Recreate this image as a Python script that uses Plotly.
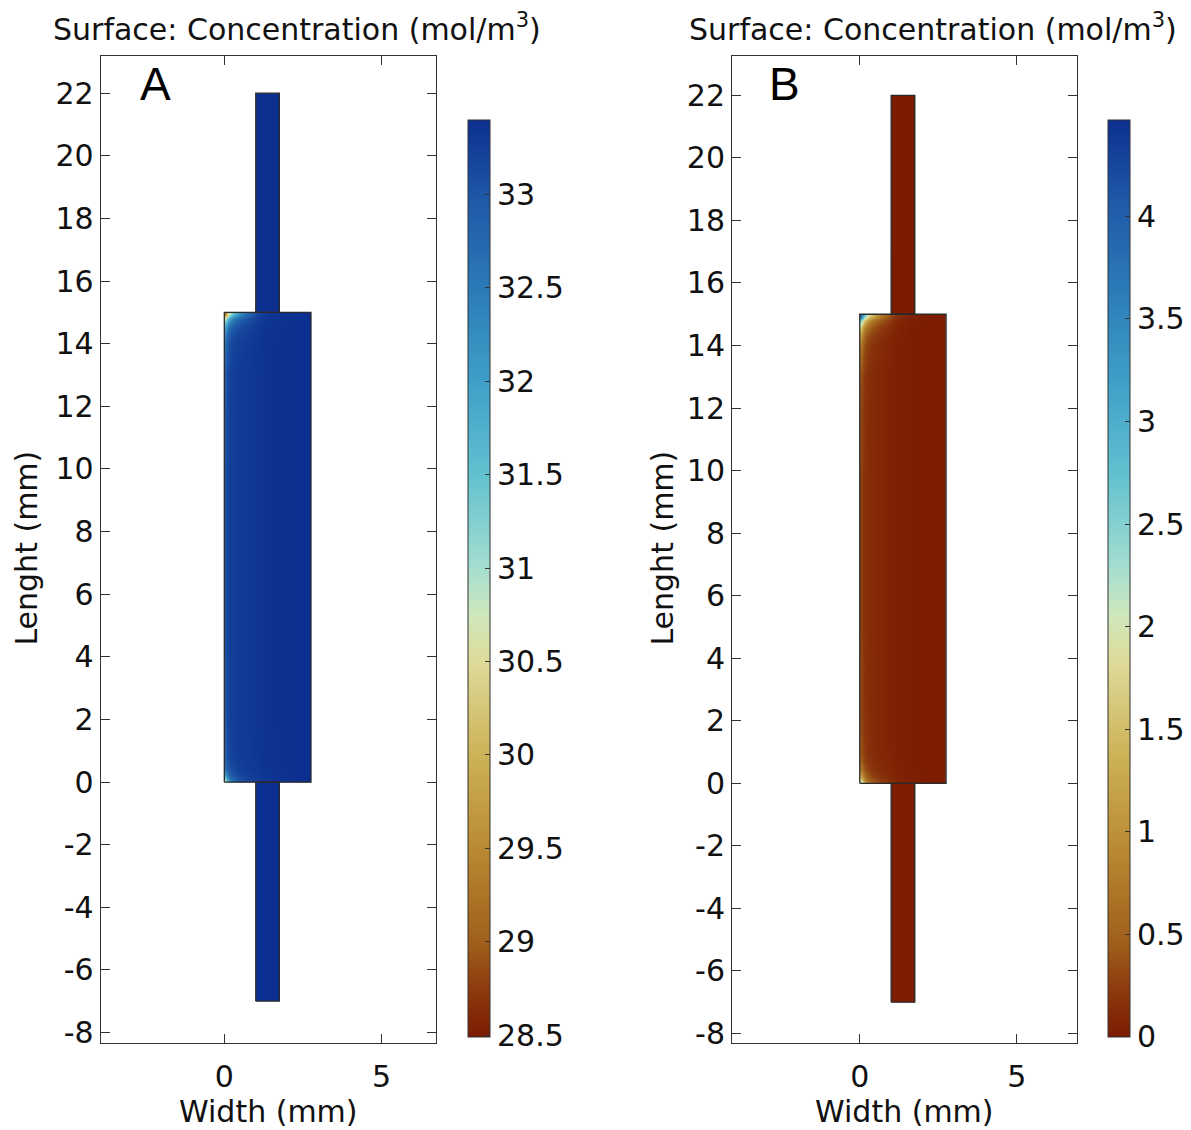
import plotly.graph_objects as go

# ---------------- data ----------------
# main chamber grid (mm) – cell edges
rect_x_edges = [0, 0.05, 0.12, 0.25, 0.5, 0.9, 1.2, 2.0, 2.75]
rect_y_edges = [0, 0.08, 0.2, 0.45, 1.0, 3.0, 7.5, 12.0, 14.0, 14.55, 14.8, 14.92, 15.0]

# concentration in main chamber, panel A (rows bottom -> top)
conc_A_rect = [
    [30.9, 31.6, 32.4, 32.9, 33.15, 33.28, 33.36, 33.39],
    [31.6, 32.2, 32.7, 33.0, 33.2, 33.29, 33.36, 33.39],
    [32.4, 32.7, 32.95, 33.15, 33.25, 33.3, 33.37, 33.39],
    [32.85, 33.05, 33.16, 33.25, 33.29, 33.33, 33.37, 33.39],
    [33.0, 33.14, 33.22, 33.27, 33.31, 33.34, 33.38, 33.39],
    [33.05, 33.16, 33.24, 33.28, 33.31, 33.34, 33.38, 33.39],
    [33.05, 33.16, 33.24, 33.28, 33.31, 33.34, 33.38, 33.39],
    [32.95, 33.12, 33.22, 33.27, 33.31, 33.34, 33.38, 33.39],
    [32.4, 32.75, 33.0, 33.15, 33.25, 33.32, 33.38, 33.39],
    [31.4, 31.9, 32.4, 32.85, 33.1, 33.27, 33.37, 33.39],
    [30.2, 30.9, 31.7, 32.3, 32.9, 33.2, 33.36, 33.39],
    [29.4, 30.1, 31.0, 31.9, 32.7, 33.15, 33.35, 33.39],
]

# concentration in main chamber, panel B (rows bottom -> top)
conc_B_rect = [
    [2.3, 1.7, 1.0, 0.5, 0.25, 0.12, 0.04, 0.01],
    [1.7, 1.2, 0.7, 0.38, 0.2, 0.1, 0.03, 0.01],
    [1.0, 0.7, 0.42, 0.25, 0.13, 0.08, 0.03, 0.01],
    [0.5, 0.34, 0.24, 0.15, 0.1, 0.06, 0.02, 0.01],
    [0.32, 0.23, 0.17, 0.12, 0.08, 0.05, 0.02, 0.01],
    [0.28, 0.2, 0.15, 0.11, 0.08, 0.05, 0.02, 0.01],
    [0.28, 0.2, 0.15, 0.11, 0.08, 0.05, 0.02, 0.01],
    [0.38, 0.26, 0.18, 0.12, 0.08, 0.05, 0.02, 0.01],
    [1.1, 0.7, 0.42, 0.25, 0.14, 0.07, 0.02, 0.01],
    [2.0, 1.5, 1.0, 0.55, 0.28, 0.12, 0.03, 0.01],
    [3.2, 2.5, 1.7, 1.0, 0.5, 0.18, 0.04, 0.01],
    [3.9, 3.2, 2.4, 1.5, 0.7, 0.25, 0.05, 0.01],
]

# inlet / outlet channels (mm)
channel_x_edges = [1.0, 1.75]
top_channel_y_edges = [15.0, 22.0]
bottom_channel_y_edges = [-7.0, 0.0]
conc_A_top_channel = 33.40
conc_A_bottom_channel = 33.39
conc_B_top_channel = 0.0
conc_B_bottom_channel = 0.01

# colour ranges and tick labels
range_A = [28.49, 33.40]
range_B = [0.0, 4.47]
cbar_ticks_A = [28.5, 29, 29.5, 30, 30.5, 31, 31.5, 32, 32.5, 33]
cbar_ticks_B = [0, 0.5, 1, 1.5, 2, 2.5, 3, 3.5, 4]
y_ticks = [-8, -6, -4, -2, 0, 2, 4, 6, 8, 10, 12, 14, 16, 18, 20, 22]
y_tick_text = ["-8", "-6", "-4", "-2", "0", "2", "4", "6", "8", "10", "12", "14", "16", "18", "20", "22"]
x_ticks = [0, 5]
x_tick_text = ["0", "5"]

colorscale = [
    [0.0, '#7b1b02'],
    [0.05, '#8c3a0e'],
    [0.104, '#a0601c'],
    [0.206, '#b98a33'],
    [0.308, '#cdb257'],
    [0.409, '#dedb9a'],
    [0.46, '#cfe8bc'],
    [0.511, '#a5ded0'],
    [0.613, '#62c1cf'],
    [0.715, '#3f9fc8'],
    [0.817, '#2b7ab7'],
    [0.918, '#1e56a6'],
    [1.0, '#0c2f90'],
]

FONT = "DejaVu Sans"
FS = 30
W, H = 1191, 1130

fig = go.Figure()


def outline(x_edges, y_edges):
    xs = [x_edges[0], x_edges[-1], x_edges[-1], x_edges[0], x_edges[0]]
    ys = [y_edges[0], y_edges[0], y_edges[-1], y_edges[-1], y_edges[0]]
    return xs, ys


panels = [
    ("x", "y", "coloraxis", conc_A_rect, conc_A_top_channel, conc_A_bottom_channel),
    ("x2", "y2", "coloraxis2", conc_B_rect, conc_B_top_channel, conc_B_bottom_channel),
]

for xa, ya, ca, rect_z, top_v, bot_v in panels:
    fig.add_trace(go.Heatmap(x=rect_x_edges, y=rect_y_edges, z=rect_z, zsmooth="best",
                             coloraxis=ca, xaxis=xa, yaxis=ya, hoverinfo="skip"))
    fig.add_trace(go.Heatmap(x=channel_x_edges, y=top_channel_y_edges, z=[[top_v]],
                             coloraxis=ca, xaxis=xa, yaxis=ya, hoverinfo="skip"))
    fig.add_trace(go.Heatmap(x=channel_x_edges, y=bottom_channel_y_edges, z=[[bot_v]],
                             coloraxis=ca, xaxis=xa, yaxis=ya, hoverinfo="skip"))
    for xe, ye in [(rect_x_edges, rect_y_edges), (channel_x_edges, top_channel_y_edges),
                   (channel_x_edges, bottom_channel_y_edges)]:
        ox, oy = outline(xe, ye)
        fig.add_trace(go.Scatter(x=ox, y=oy, mode="lines", xaxis=xa, yaxis=ya,
                                 line=dict(color="#2a2a2a", width=1.3),
                                 showlegend=False, hoverinfo="skip"))

axis_common = dict(showgrid=False, zeroline=False, showline=True, linecolor="#333333",
                   linewidth=1, mirror="ticks", ticks="inside", ticklen=9,
                   tickcolor="#333333", tickfont=dict(family=FONT, size=FS, color="#111111"))

y_dom = [(H - 1050) / H, (H - 56) / H]
xkw = dict(tickvals=x_ticks, ticktext=x_tick_text, ticklabelstandoff=7, **axis_common)
ykw = dict(tickvals=y_ticks, ticktext=y_tick_text, **axis_common)
cb_y = (H - 582) / H

fig.update_layout(
    width=W, height=H, margin=dict(l=0, r=0, t=0, b=0),
    paper_bgcolor="white", plot_bgcolor="white", showlegend=False,
    xaxis=dict(domain=[100.7 / W, 436 / W], range=[-3.93, 6.73], anchor="y", **xkw),
    yaxis=dict(domain=y_dom, range=[-8.35, 23.2], anchor="x", **ykw),
    xaxis2=dict(domain=[732 / W, 1077 / W], range=[-4.07, 6.92], anchor="y2", **xkw),
    yaxis2=dict(domain=y_dom, range=[-8.32, 23.27], anchor="x2", **ykw),
    coloraxis=dict(colorscale=colorscale, cmin=range_A[0], cmax=range_A[1],
                   colorbar=dict(x=468 / W, xanchor="left", y=cb_y, yanchor="middle",
                                 len=917, lenmode="pixels", thickness=22, thicknessmode="pixels",
                                 xpad=0, ypad=0, outlinecolor="#333333", outlinewidth=1,
                                 tickvals=cbar_ticks_A, ticktext=[f"{v:g}" for v in cbar_ticks_A],
                                 ticks="inside", ticklen=5, tickcolor="#333333",
                                 tickfont=dict(family=FONT, size=FS, color="#111111"))),
    coloraxis2=dict(colorscale=colorscale, cmin=range_B[0], cmax=range_B[1],
                    colorbar=dict(x=1108 / W, xanchor="left", y=cb_y, yanchor="middle",
                                  len=917, lenmode="pixels", thickness=22, thicknessmode="pixels",
                                  xpad=0, ypad=0, outlinecolor="#333333", outlinewidth=1,
                                  tickvals=cbar_ticks_B, ticktext=[f"{v:g}" for v in cbar_ticks_B],
                                  ticks="inside", ticklen=5, tickcolor="#333333",
                                  tickfont=dict(family=FONT, size=FS, color="#111111"))),
)

title_txt = "Surface: Concentration (mol/m<sup>3</sup>)"
annos = [
    dict(text=title_txt, x=297 / W, y=(H - 28) / H),
    dict(text=title_txt, x=933 / W, y=(H - 28) / H),
    dict(text="Width (mm)", x=268 / W, y=(H - 1118) / H),
    dict(text="Width (mm)", x=904 / W, y=(H - 1118) / H),
    dict(text="Lenght (mm)", x=27 / W, y=(H - 552) / H, textangle=-90),
    dict(text="Lenght (mm)", x=663 / W, y=(H - 552) / H, textangle=-90),
]
for a in annos:
    fig.add_annotation(xref="paper", yref="paper", showarrow=False, xanchor="center",
                       yanchor="middle", font=dict(family=FONT, size=FS, color="#111111"), **a)

for letter, cx in [("A", 155), ("B", 784)]:
    fig.add_annotation(xref="paper", yref="paper", x=cx / W, y=(H - 85) / H, text=letter,
                       showarrow=False, xanchor="center", yanchor="middle",
                       font=dict(family="Liberation Sans", size=46, color="black"))

fig.write_html("out.html")
